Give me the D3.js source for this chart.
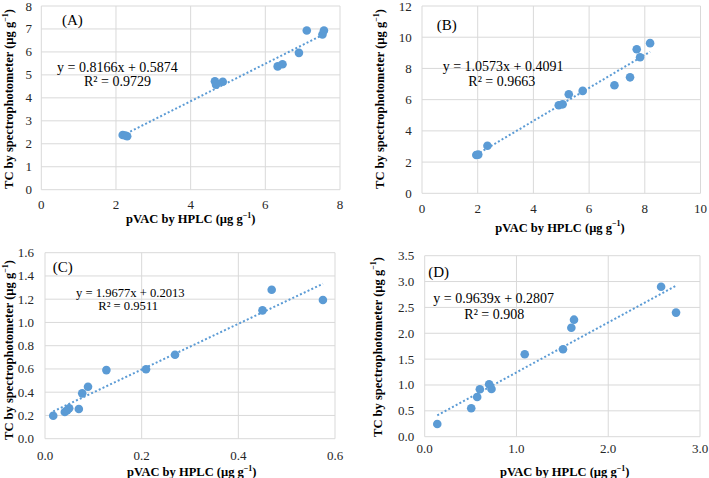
<!DOCTYPE html>
<html>
<head>
<meta charset="utf-8">
<script src="https://cdn.jsdelivr.net/npm/d3@7/dist/d3.min.js"></script>
<style>
  html, body { margin: 0; padding: 0; background: #fff; }
  svg { display: block; }
  text { font-family: "Liberation Serif", "Times New Roman", serif; }
</style>
</head>
<body>
<svg id="chart" width="709" height="478"></svg>
<script>
// ---------------- DATA ----------------
const panelLabels = ["(A)", "(B)", "(C)", "(D)"];
const xTitle = "pVAC by HPLC (µg g";
const yTitle = "TC by spectrophotometer (µg g";

// Panel A
const xA = [2.18, 2.25, 2.30, 4.65, 4.68, 4.86, 6.33, 6.46, 6.90, 7.11, 7.53, 7.57];
const yA = [2.38, 2.36, 2.33, 4.72, 4.57, 4.70, 5.37, 5.46, 5.96, 6.93, 6.76, 6.93];
const slopeA = 0.8166, interceptA = 0.5874;
const eqA = ["y = 0.8166x + 0.5874", "R² = 0.9729"];
const xTicksA = [0, 2, 4, 6, 8];
const yTicksA = [0, 1, 2, 3, 4, 5, 6, 7, 8];

// Panel B
const xB = [1.95, 2.02, 2.35, 4.91, 5.05, 5.27, 5.77, 6.91, 7.47, 7.71, 7.83, 8.19];
const yB = [2.45, 2.48, 3.05, 5.64, 5.70, 6.35, 6.56, 6.92, 7.43, 9.23, 8.72, 9.62];
const slopeB = 1.0573, interceptB = 0.4091;
const eqB = ["y = 1.0573x + 0.4091", "R² = 0.9663"];
const xTicksB = [0, 2, 4, 6, 8, 10];
const yTicksB = [0, 2, 4, 6, 8, 10, 12];

// Panel C
const xC = [0.017, 0.041, 0.046, 0.050, 0.070, 0.077, 0.089, 0.127, 0.209, 0.269, 0.450, 0.469, 0.575];
const yC = [0.198, 0.230, 0.245, 0.262, 0.255, 0.390, 0.447, 0.590, 0.597, 0.722, 1.104, 1.281, 1.193];
const slopeC = 1.9677, interceptC = 0.2013;
const eqC = ["y = 1.9677x + 0.2013", "R² = 0.9511"];
const xTicksC = [0, 0.2, 0.4, 0.6];
const yTicksC = [0, 0.2, 0.4, 0.6, 0.8, 1.0, 1.2, 1.4, 1.6];

// Panel D
const xD = [0.137, 0.507, 0.572, 0.601, 0.702, 0.728, 1.090, 1.507, 1.598, 1.627, 2.576, 2.739];
const yD = [0.245, 0.549, 0.768, 0.917, 1.013, 0.922, 1.594, 1.690, 2.108, 2.263, 2.900, 2.400];
const slopeD = 0.9639, interceptD = 0.2807;
const eqD = ["y = 0.9639x + 0.2807", "R² = 0.908"];
const xTicksD = [0, 1, 2, 3];
const yTicksD = [0, 0.5, 1.0, 1.5, 2.0, 2.5, 3.0, 3.5];

// ---------------- LAYOUT (positions only) ----------------
const layouts = [
  { l: 41.3, r: 340, t: 6, b: 189.7, fmt: d3.format("d"),
    yTickR: 32, xTickY: 204, xTitleY: 219, xTitleCX: 190.7, yTitleX: 9, yTitleCY: 99,
    lab: [62, 20], eq1: [57, 67], eq2: [84, 81], eqSize: 14 },
  { l: 422, r: 700.5, t: 6, b: 193.3, fmt: d3.format("d"),
    yTickR: 411.7, xTickY: 208, xTitleY: 227.7, xTitleCX: 560, yTitleX: 380, yTitleCY: 99,
    lab: [436.7, 25], eq1: [442.7, 66.7], eq2: [468.3, 81.7], eqSize: 14 },
  { l: 45, r: 335, t: 252.7, b: 438.7, fmt: d3.format(".1f"),
    yTickR: 34, xTickY: 455, xTitleY: 472, xTitleCX: 191.8, yTitleX: 9, yTitleCY: 350,
    lab: [52.7, 267.3], eq1: [76, 292.7], eq2: [98.3, 306], eqSize: 12.6 },
  { l: 424.7, r: 700, t: 255.7, b: 436.7, fmt: d3.format(".1f"),
    yTickR: 414.3, xTickY: 448.3, xTitleY: 472.3, xTitleCX: 564.7, yTitleX: 377.7, yTitleCY: 347,
    lab: [428.3, 271.7], eq1: [433.3, 298.3], eq2: [464.3, 314], eqSize: 14 }
];

const datasets = [
  { x: xA, y: yA, m: slopeA, c: interceptA, eq: eqA, xt: xTicksA, yt: yTicksA },
  { x: xB, y: yB, m: slopeB, c: interceptB, eq: eqB, xt: xTicksB, yt: yTicksB },
  { x: xC, y: yC, m: slopeC, c: interceptC, eq: eqC, xt: xTicksC, yt: yTicksC },
  { x: xD, y: yD, m: slopeD, c: interceptD, eq: eqD, xt: xTicksD, yt: yTicksD }
];

const svg = d3.select("#chart");
svg.append("rect").attr("width", 709).attr("height", 478).attr("fill", "#fff");

const gridColor = "#d9d9d9";
const pointColor = "#5b9bd5";
const tickColor = "#262626";

function addSup(sel, base) {
  sel.append("tspan").text(base);
  sel.append("tspan").attr("font-size", "8px").attr("dy", -4.5).text("−1");
  sel.append("tspan").attr("dy", 4.5).text(")");
}

datasets.forEach((ds, i) => {
  const L = layouts[i];
  const xs = d3.scaleLinear().domain(d3.extent(ds.xt)).range([L.l, L.r]);
  const ys = d3.scaleLinear().domain(d3.extent(ds.yt)).range([L.b, L.t]);
  const g = svg.append("g");

  // grid (vertical & horizontal)
  g.selectAll(".vg").data(ds.xt).enter().append("line")
    .attr("x1", d => xs(d)).attr("x2", d => xs(d))
    .attr("y1", L.t).attr("y2", L.b)
    .attr("stroke", gridColor).attr("stroke-width", 1);
  g.selectAll(".hg").data(ds.yt).enter().append("line")
    .attr("x1", L.l).attr("x2", L.r)
    .attr("y1", d => ys(d)).attr("y2", d => ys(d))
    .attr("stroke", gridColor).attr("stroke-width", 1);

  // tick labels
  g.selectAll(".xl").data(ds.xt).enter().append("text")
    .attr("x", d => xs(d)).attr("y", L.xTickY)
    .attr("text-anchor", "middle").attr("dominant-baseline", "central")
    .attr("font-size", "13px").attr("fill", tickColor)
    .text(d => L.fmt(d));
  g.selectAll(".yl").data(ds.yt).enter().append("text")
    .attr("x", L.yTickR).attr("y", d => ys(d))
    .attr("text-anchor", "end").attr("dominant-baseline", "central")
    .attr("font-size", "13px").attr("fill", tickColor)
    .text(d => L.fmt(d));

  // trendline (dotted), from min x to max x
  const [x0, x1] = d3.extent(ds.x);
  const line = d3.line().x(d => xs(d)).y(d => ys(ds.m * d + ds.c));
  g.append("path").datum([x0, x1])
    .attr("d", line)
    .attr("fill", "none").attr("stroke", pointColor)
    .attr("stroke-width", 2).attr("stroke-dasharray", "2,2.2");

  // points
  g.selectAll(".pt").data(ds.x.map((v, k) => [v, ds.y[k]])).enter().append("circle")
    .attr("cx", d => xs(d[0])).attr("cy", d => ys(d[1]))
    .attr("r", 4.3).attr("fill", pointColor);

  // panel label
  g.append("text").attr("x", L.lab[0]).attr("y", L.lab[1])
    .attr("dominant-baseline", "central").attr("font-size", "15px").attr("fill", "#000")
    .text(panelLabels[i]);

  // equation
  g.append("text").attr("x", L.eq1[0]).attr("y", L.eq1[1])
    .attr("dominant-baseline", "central").attr("font-size", L.eqSize + "px").attr("fill", "#000")
    .text(ds.eq[0]);
  g.append("text").attr("x", L.eq2[0]).attr("y", L.eq2[1])
    .attr("dominant-baseline", "central").attr("font-size", L.eqSize + "px").attr("fill", "#000")
    .text(ds.eq[1]);

  // axis titles
  const xt = g.append("text").attr("x", L.xTitleCX).attr("y", L.xTitleY)
    .attr("text-anchor", "middle").attr("dominant-baseline", "central")
    .attr("font-size", "12.5px").attr("font-weight", "bold").attr("fill", "#000");
  addSup(xt, xTitle);
  const yt = g.append("text")
    .attr("transform", `translate(${L.yTitleX},${L.yTitleCY}) rotate(-90)`)
    .attr("text-anchor", "middle").attr("dominant-baseline", "central")
    .attr("font-size", "12.5px").attr("font-weight", "bold").attr("fill", "#000");
  addSup(yt, yTitle);
});
</script>
</body>
</html>
